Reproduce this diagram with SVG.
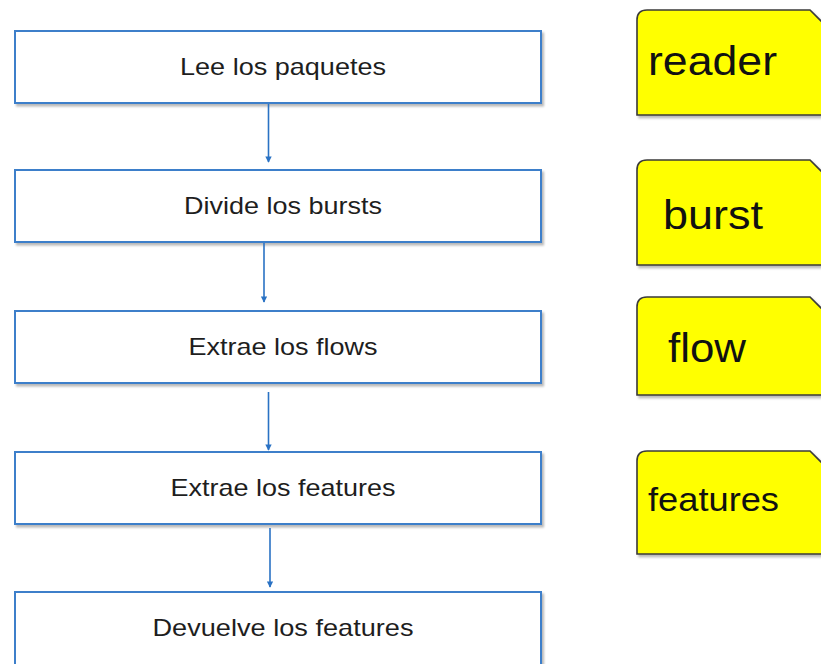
<svg xmlns="http://www.w3.org/2000/svg" width="821" height="664" viewBox="0 0 821 664">
  <style>
    .step { fill: #ffffff; stroke: #3d7fca; stroke-width: 2; }
    .step-text { font-family: "Liberation Sans", Arial, sans-serif; font-size: 24px; fill: #1e1e1e; text-anchor: middle; }
    .tag { fill: #ffff00; stroke: #3a3a3a; stroke-width: 1.6; }
    .tag-text { font-family: "Liberation Sans", Arial, sans-serif; font-size: 40px; fill: #111111; }
    .link { stroke: #2a72c4; stroke-width: 1.6; fill: none; marker-end: url(#head); }
  </style>
  <defs>
    <marker id="head" viewBox="0 0 8 8" refX="7" refY="4" markerWidth="4" markerHeight="4" orient="auto" markerUnits="strokeWidth">
      <path d="M0,0 L8,4 L0,8 z" fill="#2a72c4"/>
    </marker>
    <filter id="shade" x="-5%" y="-10%" width="115%" height="130%">
      <feDropShadow dx="2" dy="2.5" stdDeviation="1.2" flood-color="#000000" flood-opacity="0.28"/>
    </filter>
  </defs>

  <rect width="821" height="664" fill="#ffffff"/>

  <!-- process steps -->
  <g id="step-read">
    <rect class="step" x="15" y="31" width="526" height="72" filter="url(#shade)"/>
    <text class="step-text" x="283" y="74.5" textLength="206" lengthAdjust="spacingAndGlyphs">Lee los paquetes</text>
  </g>
  <g id="step-split">
    <rect class="step" x="15" y="170" width="526" height="72" filter="url(#shade)"/>
    <text class="step-text" x="283" y="213.5" textLength="198" lengthAdjust="spacingAndGlyphs">Divide los bursts</text>
  </g>
  <g id="step-flows">
    <rect class="step" x="15" y="311" width="526" height="72" filter="url(#shade)"/>
    <text class="step-text" x="283" y="354.5" textLength="189" lengthAdjust="spacingAndGlyphs">Extrae los flows</text>
  </g>
  <g id="step-features">
    <rect class="step" x="15" y="452" width="526" height="72" filter="url(#shade)"/>
    <text class="step-text" x="283" y="495.5" textLength="225" lengthAdjust="spacingAndGlyphs">Extrae los features</text>
  </g>
  <g id="step-return">
    <rect class="step" x="15" y="592" width="526" height="90" filter="url(#shade)"/>
    <text class="step-text" x="283" y="635.5" textLength="261" lengthAdjust="spacingAndGlyphs">Devuelve los features</text>
  </g>

  <!-- connectors -->
  <g id="connectors">
    <line class="link" x1="268.5" y1="104" x2="268.5" y2="162"/>
    <line class="link" x1="264" y1="243" x2="264" y2="302"/>
    <line class="link" x1="268.5" y1="392" x2="268.5" y2="450"/>
    <line class="link" x1="270" y1="528" x2="270" y2="587"/>
  </g>

  <!-- module tags: rounded top-left corner, cut top-right corner -->
  <g id="tag-reader">
    <path class="tag" filter="url(#shade)" d="M637,20 Q637,10 647,10 L810,10 L840,40 L840,115 L637,115 Z"/>
    <text class="tag-text" x="648" y="74.5" textLength="129" lengthAdjust="spacingAndGlyphs">reader</text>
  </g>
  <g id="tag-burst">
    <path class="tag" filter="url(#shade)" d="M637,170 Q637,160 647,160 L810,160 L840,190 L840,265 L637,265 Z"/>
    <text class="tag-text" x="663" y="228.5" textLength="100" lengthAdjust="spacingAndGlyphs">burst</text>
  </g>
  <g id="tag-flow">
    <path class="tag" filter="url(#shade)" d="M637,307 Q637,297 647,297 L810,297 L840,327 L840,395 L637,395 Z"/>
    <text class="tag-text" x="668" y="362" textLength="78" lengthAdjust="spacingAndGlyphs">flow</text>
  </g>
  <g id="tag-features">
    <path class="tag" filter="url(#shade)" d="M637,461 Q637,451 647,451 L810,451 L840,481 L840,554 L637,554 Z"/>
    <text class="tag-text" x="648" y="511" style="font-size:33px" textLength="131" lengthAdjust="spacingAndGlyphs">features</text>
  </g>
</svg>
